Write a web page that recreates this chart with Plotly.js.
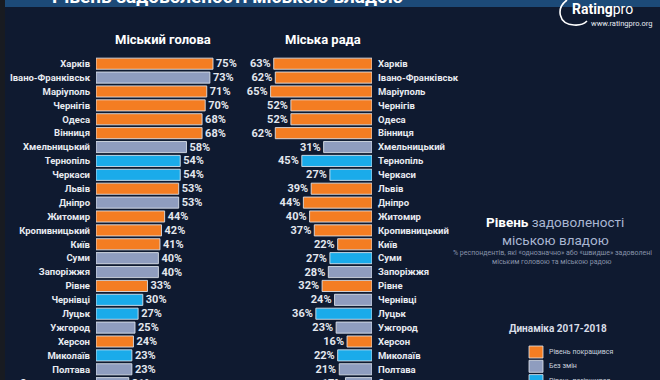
<!DOCTYPE html>
<html>
<head>
<meta charset="utf-8">
<script src="https://cdn.plot.ly/plotly-3.0.1.min.js"></script>
<style>
  html, body { margin: 0; padding: 0; background: #0f1a30; overflow: hidden; }
  #wrap { width: 660px; height: 380px; overflow: hidden; }
  #chart { width: 660px; height: 400px; }
</style>
</head>
<body>
<div id="wrap"><div id="chart"></div></div>
<script>
// ---- data ----
const cities = ['Харків', 'Івано-Франківськ', 'Маріуполь', 'Чернігів', 'Одеса', 'Вінниця',
  'Хмельницький', 'Тернопіль', 'Черкаси', 'Львів', 'Дніпро', 'Житомир', 'Кропивницький',
  'Київ', 'Суми', 'Запоріжжя', 'Рівне', 'Чернівці', 'Луцьк', 'Ужгород', 'Херсон',
  'Миколаїв', 'Полтава', 'Сєвєродонецьк'];
const mayorValues = [75, 73, 71, 70, 68, 68, 58, 54, 54, 53, 53, 44, 42, 41, 40, 40, 33, 30, 27, 25, 24, 23, 23, 21];
const councilValues = [63, 62, 65, 52, 52, 62, 31, 45, 27, 39, 44, 40, 37, 22, 27, 28, 32, 24, 36, 23, 16, 22, 21, 17];
const mayorStatus = ['up', 'same', 'up', 'up', 'up', 'up', 'same', 'down', 'down', 'up', 'same', 'up', 'up',
  'up', 'same', 'same', 'up', 'down', 'down', 'same', 'up', 'down', 'same', 'same'];
const councilStatus = ['up', 'up', 'up', 'up', 'up', 'up', 'same', 'down', 'down', 'up', 'up', 'up', 'up',
  'up', 'down', 'same', 'up', 'same', 'down', 'same', 'up', 'down', 'same', 'same'];
const statusKeys = ['up', 'same', 'down'];
const statusLabels = ['Рівень покращився', 'Без змін', 'Рівень погіршився'];
const panelTitles = ['Міський голова', 'Міська рада'];
const mainTitle = 'Рівень задоволеності міською владою';
const subtitleLines = ['% респондентів, які «однозначно» або «швидше» задоволені', 'міським головою та міською радою'];
const legendTitle = 'Динаміка 2017-2018';

// ---- style ----
const W = 660, H = 400;
const colors = { up: '#f47d22', same: '#8f9dbf', down: '#1aabea' };
const bg = '#0f1a30';
const font = 'Roboto, "Noto Sans", sans-serif';
const px = x => x / W;
const py = y => 1 - y / H;

const pitch = 13.89;          // px per row
const plotTop = 40;           // px
const firstCenter = 63.7;     // px
const topIdx = -(firstCenter - plotTop) / pitch;
const botIdx = topIdx + (H - plotTop) / pitch;
const scale = 1.56;           // px per %
const leftStart = 96, leftMax = 80;
const rightEnd = 372, rightMax = 70;

function barTrace(values, status, xa, ya) {
  return {
    type: 'bar', orientation: 'h',
    x: values, y: cities, xaxis: xa, yaxis: ya,
    width: 0.8,
    marker: { color: status.map(s => colors[s]), line: { color: 'rgba(225,230,238,0.85)', width: 1 } },
    text: values.map(v => v + '%'),
    textposition: 'outside', cliponaxis: false, constraintext: 'none',
    textfont: { family: font, size: 11, color: '#e3e7ee', weight: 'bold' },
    hoverinfo: 'skip', showlegend: false
  };
}

const data = [
  barTrace(mayorValues, mayorStatus, 'x', 'y'),
  barTrace(councilValues, councilStatus, 'x2', 'y2')
];

const yCommon = {
  domain: [0, 1 - plotTop / H], type: 'category', categoryorder: 'array', categoryarray: cities,
  range: [botIdx, topIdx], showgrid: false, zeroline: false, showline: false, ticks: '',
  tickfont: { family: font, size: 9.5, color: '#e8ebf1', weight: 'bold' },
  automargin: false, fixedrange: true
};

const shapes = [
  { type: 'rect', xref: 'paper', yref: 'paper', x0: 0, x1: 1, y0: py(7), y1: 1, fillcolor: '#1c4a78', line: { width: 0 }, layer: 'below' },
  { type: 'rect', xref: 'paper', yref: 'paper', x0: 0, x1: px(5), y0: 0, y1: 1, fillcolor: '#181b21', line: { width: 0 } },
  { type: 'path', xref: 'paper', yref: 'paper',
    path: `M${px(567)},${py(0)} C${px(556)},${py(8)} ${px(558)},${py(24)} ${px(574)},${py(25)} C${px(580)},${py(25.5)} ${px(584)},${py(24)} ${px(587)},${py(21)}`,
    line: { color: '#ffffff', width: 1.6 } }
];
const annotations = [
  { text: '<b>' + mainTitle + '</b>', xref: 'paper', yref: 'paper', x: px(227), y: py(10), xanchor: 'center', yanchor: 'bottom',
    showarrow: false, font: { family: font, size: 19, color: '#ffffff' } },
  { text: '<b>Rating</b>pro', xref: 'paper', yref: 'paper', x: px(570), y: py(9), xanchor: 'left', yanchor: 'middle',
    showarrow: false, font: { family: font, size: 14, color: '#ffffff' } },
  { text: 'www.ratingpro.org', xref: 'paper', yref: 'paper', x: px(654), y: py(23), xanchor: 'right', yanchor: 'middle',
    showarrow: false, font: { family: font, size: 7.5, color: '#e8ecf2' } },
  { text: '<b>' + panelTitles[0] + '</b>', xref: 'paper', yref: 'paper', x: px(162.5), y: py(40), xanchor: 'center', yanchor: 'middle',
    showarrow: false, font: { family: font, size: 13, color: '#ffffff' } },
  { text: '<b>' + panelTitles[1] + '</b>', xref: 'paper', yref: 'paper', x: px(323), y: py(40), xanchor: 'center', yanchor: 'middle',
    showarrow: false, font: { family: font, size: 13, color: '#ffffff' } },
  { text: '<b>Рівень</b> <span style="color:#a9b6d2">задоволеності</span>', xref: 'paper', yref: 'paper', x: px(555), y: py(222), xanchor: 'center', yanchor: 'middle',
    showarrow: false, font: { family: font, size: 13.5, color: '#ffffff' } },
  { text: 'міською владою', xref: 'paper', yref: 'paper', x: px(555), y: py(240), xanchor: 'center', yanchor: 'middle',
    showarrow: false, font: { family: font, size: 13.5, color: '#a9b6d2' } },
  { text: subtitleLines[0], xref: 'paper', yref: 'paper', x: px(552), y: py(253), xanchor: 'center', yanchor: 'middle',
    showarrow: false, font: { family: font, size: 7, color: '#8893aa' } },
  { text: subtitleLines[1], xref: 'paper', yref: 'paper', x: px(552), y: py(262), xanchor: 'center', yanchor: 'middle',
    showarrow: false, font: { family: font, size: 7, color: '#8893aa' } },
  { text: '<b>' + legendTitle + '</b>', xref: 'paper', yref: 'paper', x: px(558), y: py(328), xanchor: 'center', yanchor: 'middle',
    showarrow: false, font: { family: font, size: 10, color: '#d9dee7' } }
];
statusKeys.forEach((k, i) => {
  const top = 346 + i * 14.3;
  shapes.push({ type: 'rect', xref: 'paper', yref: 'paper', x0: px(529), x1: px(543), y0: py(top + 12), y1: py(top),
    fillcolor: colors[k], line: { color: 'rgba(225,230,238,0.8)', width: 1 } });
  annotations.push({ text: statusLabels[i], xref: 'paper', yref: 'paper', x: px(547), y: py(top + 6), xanchor: 'left', yanchor: 'middle',
    showarrow: false, font: { family: font, size: 7, color: '#c9d0dd' } });
});

const layout = {
  width: W, height: H,
  margin: { l: 0, r: 0, t: 0, b: 0, pad: 0 },
  paper_bgcolor: bg, plot_bgcolor: 'rgba(0,0,0,0)',
  showlegend: false,
  xaxis: { domain: [px(leftStart), px(leftStart + scale * leftMax)], range: [0, leftMax], visible: false, anchor: 'y', fixedrange: true },
  xaxis2: { domain: [px(rightEnd - scale * rightMax), px(rightEnd)], range: [rightMax, 0], visible: false, anchor: 'y2', fixedrange: true },
  yaxis: Object.assign({}, yCommon, { anchor: 'x', side: 'left', ticklabelstandoff: 5 }),
  yaxis2: Object.assign({}, yCommon, { anchor: 'x2', side: 'right', ticklabelstandoff: 5 }),
  shapes: shapes,
  annotations: annotations
};

Plotly.newPlot('chart', data, layout, { displayModeBar: false, staticPlot: true });
</script>
</body>
</html>
